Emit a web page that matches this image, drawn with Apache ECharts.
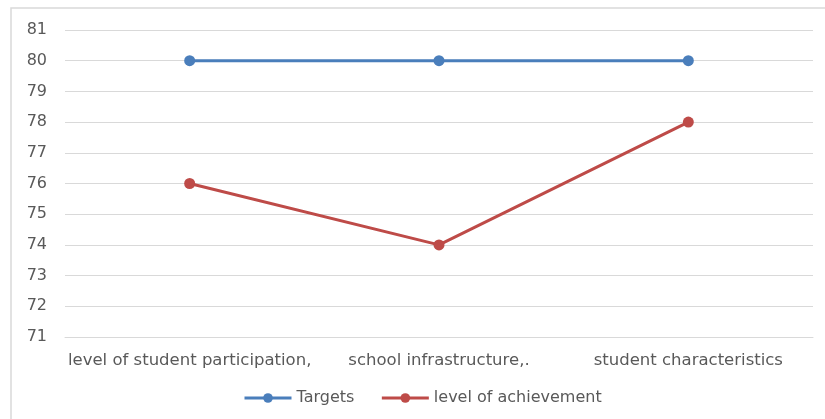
<!DOCTYPE html>
<html><head><meta charset="utf-8">
<script src="https://cdn.jsdelivr.net/npm/echarts@6/dist/echarts.min.js"></script>
<style>html,body{margin:0;padding:0;background:#fff}#c{width:825px;height:419px}</style>
</head><body><div id="c"></div>
<script>
const categories = ['level of student participation,', 'school infrastructure,.', 'student characteristics'];
const targets = [80, 80, 80];
const achievement = [76, 74, 78];
const yTicks = { min: 71, max: 81, interval: 1 };

const chart = echarts.init(document.getElementById('c'));
const font = 'DejaVu Sans, sans-serif';
chart.setOption({
  animation: false,
  graphic: [{ type: 'rect', shape: { x: 11, y: 8, width: 830, height: 430 }, style: { fill: 'none', stroke: '#d9d9d9', lineWidth: 1.5 }, silent: true }],
  grid: { left: 65, right: 12, top: 30, bottom: 82 },
  legend: {
    bottom: 8, left: 238, itemWidth: 47, itemHeight: 12, itemGap: 26,
    lineStyle: { width: 3 },
    textStyle: { color: '#595959', fontSize: 16, fontFamily: font },
    data: ['Targets', 'level of achievement']
  },
  xAxis: {
    type: 'category', data: categories, boundaryGap: true,
    axisLine: { lineStyle: { color: '#d9d9d9' } }, axisTick: { show: false },
    axisLabel: { color: '#595959', fontSize: 16.5, fontFamily: font, margin: 15, interval: 0 }
  },
  yAxis: {
    type: 'value', min: yTicks.min, max: yTicks.max, interval: yTicks.interval,
    axisLine: { show: false }, axisTick: { show: false },
    axisLabel: { color: '#595959', fontSize: 16, fontFamily: font, margin: 18 },
    splitLine: { lineStyle: { color: '#d9d9d9' } }
  },
  series: [
    { name: 'Targets', type: 'line', data: targets, color: '#4a7ebb', symbol: 'circle', symbolSize: 11, lineStyle: { width: 3 } },
    { name: 'level of achievement', type: 'line', data: achievement, color: '#be4b48', symbol: 'circle', symbolSize: 11, lineStyle: { width: 3 } }
  ]
});
</script></body></html>
